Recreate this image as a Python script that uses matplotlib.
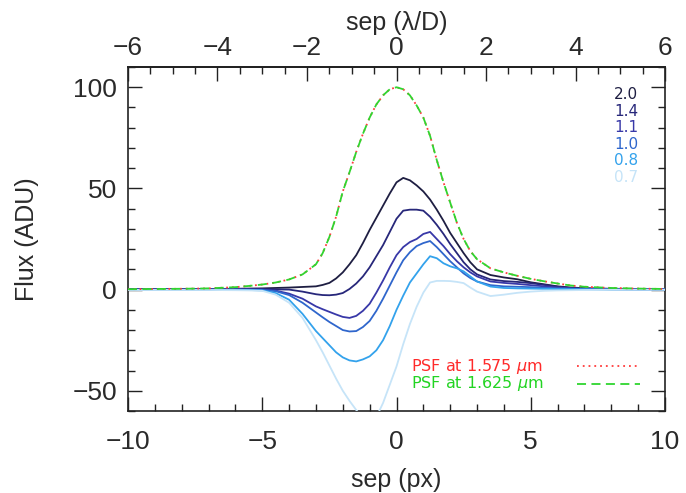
import numpy as np
import matplotlib
matplotlib.use("Agg")
import matplotlib.pyplot as plt
from matplotlib.ticker import MultipleLocator

# ---------------- data ----------------
sep_px = [-10, -9, -8, -7, -6, -5.5, -5, -4.5, -4, -3.5,
          -3, -2.75, -2.5, -2.25, -2, -1.75, -1.5, -1.25, -1, -0.75, -0.5, -0.25,
          0, 0.25, 0.5, 0.75, 1, 1.25, 1.5, 1.75, 2, 2.25, 2.5, 2.75, 3,
          3.5, 4, 4.5, 5, 5.5, 6, 6.5, 7, 8, 9, 10]

psf_1575 = [0.2, 0.3, 0.4, 0.6, 1.2, 1.8, 2.5, 3.5, 5.0, 7.5,
            12.5, 18, 26, 36, 48.5, 58, 68, 77, 85, 91.5, 96, 99,
            100, 99, 96, 91, 85, 76, 64, 53, 43, 33, 25, 19, 15,
            10.5, 8.5, 6.8, 5.3, 4.1, 3.0, 2.0, 1.4, 0.8, 0.5, 0.3]
psf_1625 = psf_1575

flux_20 = [0.3, 0.3, 0.3, 0.3, 0.4, 0.5, 0.6, 0.8, 1.0, 1.3,
           1.6, 2.3, 3.3, 5.5, 8.5, 12.5, 17, 23, 29.5, 35.5, 41.5, 47.5,
           53, 55.2, 54, 51.5, 48.5, 44.5, 39.5, 34, 28, 23, 18, 13.5, 10,
           7.2, 6.0, 5.1, 3.6, 2.6, 1.6, 1.0, 0.7, 0.4, 0.3, 0.3]
flux_14 = [0.2, 0.2, 0.2, 0.2, 0.2, 0.3, 0.3, 0.1, 0.0, -1.0,
           -2.3, -2.7, -2.8, -2.5, -1.7, 0.3, 3.0, 6.5, 11, 16.5, 22, 28.5,
           35, 39, 39.5, 39.5, 39, 36, 32, 27.5, 22.5, 18, 13.5, 10, 7.5,
           5.0, 4.2, 3.8, 3.2, 2.3, 1.4, 0.8, 0.5, 0.3, 0.2, 0.2]
flux_11 = [0.1, 0.1, 0.1, 0.1, 0.1, 0.1, 0.0, -0.5, -2.0, -4.5,
           -8.3, -9.7, -11, -12.3, -13.5, -14, -13, -10.5, -7, -1.5, 4.5, 11,
           17, 21, 23.5, 25, 27.5, 28.5, 25, 21.5, 17.5, 14, 11, 8.5, 6.5,
           4.0, 3.3, 2.8, 2.2, 1.6, 1.0, 0.6, 0.4, 0.2, 0.1, 0.1]
flux_10 = [0.0, 0.0, 0.0, 0.0, 0.0, -0.1, -0.2, -0.8, -2.7, -6.5,
           -11.3, -13.7, -16, -18, -20, -20.7, -20.5, -18.5, -15.5, -10.5, -4.5, 2,
           8.5, 14.5, 18.5, 21.5, 23, 24, 21, 17.5, 14, 11, 8, 5.7, 4.0,
           2.2, 1.6, 1.4, 1.2, 0.9, 0.6, 0.4, 0.3, 0.1, 0.0, 0.0]
flux_08 = [-0.1, -0.1, -0.1, -0.1, -0.1, -0.2, -0.4, -1.7, -5.0, -12,
           -20.5, -24, -27.5, -31, -33.5, -35, -35.5, -34.5, -33, -30, -25, -18,
           -10, -3, 3.5, 8, 12.5, 16.5, 15.5, 13, 11.5, 10.5, 9, 6.5, 4.0,
           1.5, 0.8, 0.6, 0.5, 0.4, 0.3, 0.2, 0.1, 0.0, 0.0, 0.0]
flux_07 = [-0.2, -0.2, -0.2, -0.2, -0.3, -0.4, -0.6, -2.5, -6.5, -14,
           -25, -31, -37.5, -44, -50, -55, -59.5, -63.5, -66, -63, -56, -47,
           -38, -27, -17, -8.5, -1.5, 3.5, 4.3, 4.3, 4.2, 3.8, 3.2, 1.0, -1.0,
           -3.2, -2.5, -1.6, -1.0, -0.6, -0.4, -0.3, -0.2, -0.1, -0.1, -0.1]

series_labels = ["2.0", "1.4", "1.1", "1.0", "0.8", "0.7"]
series_values = [flux_20, flux_14, flux_11, flux_10, flux_08, flux_07]
series_colors = ["#1e1e42", "#27277a", "#3838a8", "#2f66cc", "#33a2ec", "#c6e4f8"]

psf_labels = [r"PSF at 1.575 $\mu$m", r"PSF at 1.625 $\mu$m"]

x_ticks = [-10, -5, 0, 5, 10]
y_ticks = [-50, 0, 50, 100]
top_ticks = [-6, -4, -2, 0, 2, 4, 6]
px_to_lod = 0.6


def fmt(t):
    return ("\u2212" + str(abs(t))) if t < 0 else str(t)


# ---------------- figure ----------------
plt.rcParams['font.family'] = ['Liberation Sans', 'DejaVu Sans']
plt.rcParams['mathtext.fontset'] = 'dejavusans'
txt_col = "#2a2a2a"

fig = plt.figure(figsize=(6.86, 4.93), dpi=100)
ax = fig.add_axes([128/686, 1 - 411/493, (665-128)/686, (411-67)/493])

x = np.array(sep_px)
for vals, col in zip(series_values, series_colors):
    ax.plot(x, vals, color=col, lw=1.3, zorder=3)

ax.plot(x, psf_1575, color="#ff3b3b", lw=1.3, ls=(0, (1, 2.2)), zorder=4)
ax.plot(x, psf_1625, color="#2fd62f", lw=1.3, ls=(0, (5, 3)), zorder=4)

ax.set_xlim(-10, 10)
ax.set_ylim(-60, 110)
ax.set_xticks(x_ticks)
ax.set_yticks(y_ticks)
ax.set_xticklabels([fmt(t) for t in x_ticks])
ax.set_yticklabels([fmt(t) for t in y_ticks])
ax.xaxis.set_minor_locator(MultipleLocator(1))
ax.yaxis.set_minor_locator(MultipleLocator(10))
ax.tick_params(which='major', direction='in', length=10, width=1.0, labelsize=19,
               top=False, right=True, labelcolor=txt_col, color="#222222")
ax.tick_params(which='minor', direction='in', length=5, width=1.0, top=False, right=True,
               color="#222222")
ax.tick_params(axis='x', which='major', pad=14)
ax.tick_params(axis='y', which='major', pad=8)
for s in ax.spines.values():
    s.set_linewidth(1.2)
    s.set_color("#222222")

ax.set_xlabel("sep (px)", fontsize=18, labelpad=10, color=txt_col)
ax.set_ylabel("Flux (ADU)", fontsize=18, labelpad=24, color=txt_col)

top = ax.secondary_xaxis('top', functions=(lambda v: v * px_to_lod, lambda v: v / px_to_lod))
top.set_xticks(top_ticks)
top.set_xticklabels([fmt(t) for t in top_ticks])
top.xaxis.set_minor_locator(MultipleLocator(0.5))
top.tick_params(which='major', direction='in', length=10, width=1.0, labelsize=19, pad=5,
                labelcolor=txt_col, color="#222222")
top.tick_params(which='minor', direction='in', length=5, width=1.0, color="#222222")
top.spines['top'].set_linewidth(1.2)
top.set_xlabel("sep (\u03bb/D)", fontsize=18, labelpad=4, color=txt_col)

# series labels (top right)
for i, (lab, col) in enumerate(zip(series_labels, series_colors)):
    ax.text(9.0, 96.4 - 8.2 * i, lab, color=col, fontsize=11, ha='right', va='center',
            family=['DejaVu Sans'])

# PSF legend (bottom right)
ax.text(0.54, -38, psf_labels[0], color="#ff2a2a", fontsize=11.5, ha='left', va='center',
        family=['DejaVu Sans'])
ax.text(0.54, -46.5, psf_labels[1], color="#22d422", fontsize=11.5, ha='left', va='center',
        family=['DejaVu Sans'])
ax.plot([6.72, 9.07], [-38, -38], color="#ff3b3b", lw=1.3, ls=(0, (1, 2.2)))
ax.plot([6.72, 9.07], [-46.5, -46.5], color="#2fd62f", lw=1.3, ls=(0, (5, 3)))

fig.savefig("out.png", dpi=100)
